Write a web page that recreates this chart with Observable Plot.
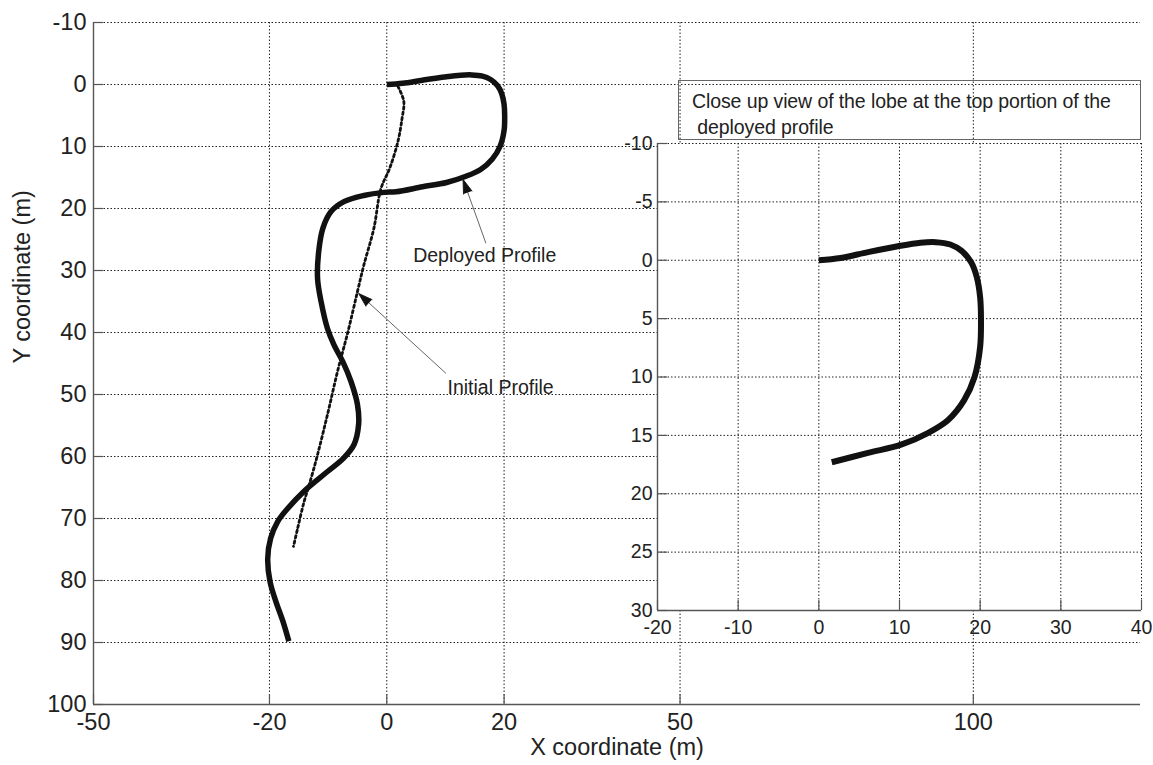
<!DOCTYPE html>
<html>
<head>
<meta charset="utf-8">
<script src="https://cdn.jsdelivr.net/npm/d3@7"></script>
<script src="https://cdn.jsdelivr.net/npm/@observablehq/plot@0.6"></script>
<style>
  html, body { margin: 0; padding: 0; background: #fff; }
  #chart { position: relative; width: 1153px; height: 765px; overflow: hidden; }
  #chart svg { position: absolute; }
  #note {
    position: absolute; left: 678px; top: 80px; width: 463px; height: 60px;
    border: 1px solid #666; box-sizing: border-box;
    font-family: "Liberation Sans", Arial, sans-serif; font-size: 19.5px; line-height: 26px;
    color: #222; padding: 7px 0 0 13px; white-space: pre; letter-spacing: -0.1px;
  }
</style>
</head>
<body>
<div id="chart"></div>
<script>
// Deployed profile (thick line), in metres
const deployedX = [0, 2.7, 6.1, 9.8, 12.6, 14.5, 16.3, 17.7, 18.9, 19.6, 20.0, 20.1, 20.0, 19.3, 18.0, 16.0, 13.5, 10.2, 6.1, 1.6,
  -0.5, -3.9, -7.3, -9.5, -10.9, -11.6, -11.8, -11.2, -10.1, -9.0, -7.5, -6.1, -5.0, -4.8, -5.6, -7.4, -10.2, -14.1, -16.9, -18.6, -19.8, -20.3, -19.9, -18.9, -17.7, -16.7];
const deployedY = [0, -0.2, -0.7, -1.2, -1.5, -1.55, -1.35, -0.8, 0.2, 1.5, 3.2, 5.0, 7.4, 10.0, 12.0, 13.7, 14.8, 15.8, 16.5, 17.3,
  17.4, 17.9, 18.9, 20.5, 23.2, 26.9, 31.3, 35.0, 39.4, 42.0, 44.7, 47.9, 51.6, 54.8, 58.1, 60.3, 62.5, 65.6, 68.4, 70.5, 73.2, 76.5, 80.2, 83.4, 86.6, 89.8];
// number of points that form the top lobe (shown in the close-up)
const lobeCount = 20;

// Initial profile (dotted line)
const initialX = [1.9, 2.9, 2.6, 1.9, 0.5, -1.0, -2.2, -3.9, -5.0, -6.6, -8.4, -10.1, -11.8, -13.2, -14.1, -15.2, -15.9];
const initialY = [0.3, 2.7, 5.5, 9.2, 13.5, 16.8, 23.2, 29.1, 33.4, 39.8, 46.3, 53.2, 59.7, 64.5, 67.3, 71.6, 74.5];

// Callout labels with arrows (label position, arrow tail, arrow tip)
const calloutText = ["Deployed Profile", "Initial Profile"];
const calloutLabelX = [16.7, 19.4];
const calloutLabelY = [27.7, 48.9];
const calloutTailX = [16.9, 10.1];
const calloutTailY = [25.6, 46.6];
const calloutTipX = [13.0, -4.8];
const calloutTipY = [15.3, 33.7];

// Axes
const mainXDomain = [-50, 128.5];
const mainYDomain = [-10, 100];
const mainXTicks = [-50, -20, 0, 20, 50, 100];
const mainYTicks = [-10, 0, 10, 20, 30, 40, 50, 60, 70, 80, 90, 100];
const insetXDomain = [-20, 40];
const insetYDomain = [-10, 30];
const insetXTicks = [-20, -10, 0, 10, 20, 30, 40];
const insetYTicks = [-10, -5, 0, 5, 10, 15, 20, 25, 30];

const noteText = "Close up view of the lobe at the top portion of the\n deployed profile";

const FONT = "'Liberation Sans', Arial, Helvetica, sans-serif";
const INK = "#111";
const AXIS = "#555";
const GRID = { stroke: "#222", strokeWidth: 1, strokeDasharray: "1.5,2" };
const plain = d => String(d); // hyphen-minus tick labels

const deployed = deployedX.map((x, i) => ({ x, y: deployedY[i] }));
const initial = initialX.map((x, i) => ({ x, y: initialY[i] }));
const lobe = deployed.slice(0, lobeCount);
const callouts = calloutText.map((label, i) => ({
  label, lx: calloutLabelX[i], ly: calloutLabelY[i],
  x1: calloutTailX[i], y1: calloutTailY[i], x2: calloutTipX[i], y2: calloutTipY[i]
}));

// Main frame layout
const W = 1153, H = 765;
const M = { left: 93, right: 13, top: 22, bottom: 61 };
const sx = d3.scaleLinear(mainXDomain, [M.left, W - M.right]);
const sy = d3.scaleLinear(mainYDomain, [M.top, H - M.bottom]);
const tickPx = 10;
const tickLenX = sx.invert(M.left + tickPx) - mainXDomain[0];
const tickLenY = mainYDomain[1] - sy.invert(H - M.bottom - tickPx);

// arrow head orientation in screen space (degrees clockwise from up)
callouts.forEach(d => {
  const dx = sx(d.x2) - sx(d.x1), dy = sy(d.y2) - sy(d.y1);
  d.angle = Math.atan2(dx, -dy) * 180 / Math.PI;
});

const main = Plot.plot({
  width: W, height: H,
  marginLeft: M.left, marginRight: M.right, marginTop: M.top, marginBottom: M.bottom,
  x: { domain: mainXDomain },
  y: { domain: mainYDomain, reverse: true },
  style: { fontFamily: FONT, color: "#222", background: "transparent", overflow: "visible" },
  marks: [
    Plot.ruleX(mainXTicks.filter(v => v !== mainXDomain[0]), GRID),
    Plot.ruleY(mainYTicks.filter(v => v !== mainYDomain[1]), GRID),
    Plot.ruleX([mainXDomain[0]], { stroke: AXIS, strokeWidth: 1.4 }),
    Plot.ruleY([mainYDomain[1]], { stroke: AXIS, strokeWidth: 1.4 }),
    Plot.ruleX(mainXTicks, { y1: mainYDomain[1], y2: mainYDomain[1] - tickLenY, stroke: AXIS, strokeWidth: 1.2 }),
    Plot.ruleY(mainYTicks, { x1: mainXDomain[0], x2: mainXDomain[0] + tickLenX, stroke: AXIS, strokeWidth: 1.2 }),
    Plot.axisX({ ticks: mainXTicks, tickFormat: plain, tickSize: 0, tickPadding: 9, fontSize: 23.5, label: null, fill: "#222" }),
    Plot.axisY({ ticks: mainYTicks, tickFormat: plain, tickSize: 0, tickPadding: 7, fontSize: 23.5, label: null, fill: "#222" }),
    Plot.text(["X coordinate (m)"], { frameAnchor: "bottom", dy: 50, fontSize: 23.5, fill: "#222" }),
    Plot.text(["Y coordinate (m)"], { frameAnchor: "left", dx: -71, rotate: -90, fontSize: 23.5, fill: "#222" }),
    Plot.line(initial, { x: "x", y: "y", stroke: INK, strokeWidth: 2.8, strokeDasharray: "2.4,3", curve: "catmull-rom" }),
    Plot.line(deployed, { x: "x", y: "y", stroke: INK, strokeWidth: 5.5, curve: "catmull-rom", strokeLinecap: "butt" }),
    Plot.link(callouts, { x1: "x1", y1: "y1", x2: "x2", y2: "y2", stroke: "#666", strokeWidth: 1 }),
    Plot.vector(callouts, { x: "x2", y: "y2", rotate: "angle", length: 14, anchor: "end", shape: "spike", r: 4.5, fill: INK, stroke: INK, strokeWidth: 0.8 }),
    Plot.text(callouts, { x: "lx", y: "ly", text: "label", fontSize: 19.5, fill: "#222" })
  ]
});
main.style.left = "0px";
main.style.top = "0px";

// Close-up of the top lobe
const IM = { left: 45, right: 12, top: 5, bottom: 30 };
const IW = IM.left + 484 + IM.right, IH = IM.top + 467 + IM.bottom;
const ix = d3.scaleLinear(insetXDomain, [IM.left, IW - IM.right]);
const iy = d3.scaleLinear(insetYDomain, [IM.top, IH - IM.bottom]);
const iTickX = ix.invert(IM.left + tickPx) - insetXDomain[0];
const iTickY = insetYDomain[1] - iy.invert(IH - IM.bottom - tickPx);

const inset = Plot.plot({
  width: IW, height: IH,
  marginLeft: IM.left, marginRight: IM.right, marginTop: IM.top, marginBottom: IM.bottom,
  x: { domain: insetXDomain },
  y: { domain: insetYDomain, reverse: true },
  style: { fontFamily: FONT, color: "#222", background: "transparent", overflow: "visible" },
  marks: [
    Plot.frame({ fill: "white", stroke: null }),
    Plot.ruleX(insetXTicks.filter(v => v !== insetXDomain[0]), GRID),
    Plot.ruleY(insetYTicks.filter(v => v !== insetYDomain[1]), GRID),
    Plot.ruleX([insetXDomain[0]], { stroke: AXIS, strokeWidth: 1.4 }),
    Plot.ruleY([insetYDomain[1]], { stroke: AXIS, strokeWidth: 1.4 }),
    Plot.ruleX(insetXTicks, { y1: insetYDomain[1], y2: insetYDomain[1] - iTickY, stroke: AXIS, strokeWidth: 1.2 }),
    Plot.ruleY(insetYTicks, { x1: insetXDomain[0], x2: insetXDomain[0] + iTickX, stroke: AXIS, strokeWidth: 1.2 }),
    Plot.axisX({ ticks: insetXTicks, tickFormat: plain, tickSize: 0, tickPadding: 10, fontSize: 19.5, label: null, fill: "#222" }),
    Plot.axisY({ ticks: insetYTicks, tickFormat: plain, tickSize: 0, tickPadding: 5, fontSize: 19.5, label: null, fill: "#222" }),
    Plot.line(lobe, { x: "x", y: "y", stroke: INK, strokeWidth: 6, curve: "catmull-rom", strokeLinecap: "butt" })
  ]
});
inset.style.left = (657 - IM.left) + "px";
inset.style.top = (143 - IM.top) + "px";

const note = document.createElement("div");
note.id = "note";
note.textContent = noteText;

const chart = document.getElementById("chart");
chart.append(main, inset, note);
</script>
</body>
</html>
